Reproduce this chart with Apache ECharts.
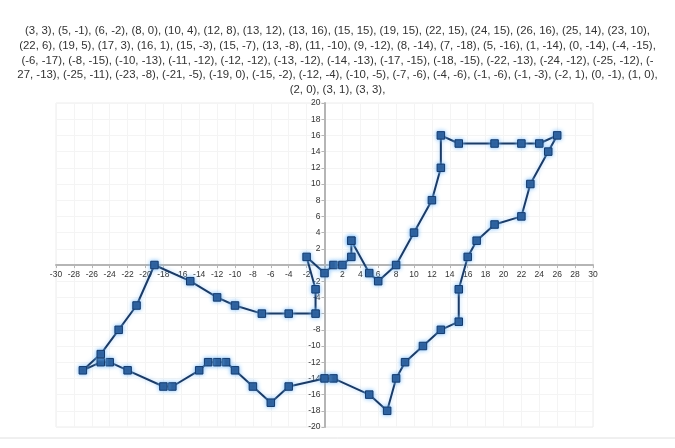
<!DOCTYPE html>
<html>
<head>
<meta charset="utf-8">
<script src="https://cdn.jsdelivr.net/npm/echarts@6/dist/echarts.min.js"></script>
<style>html,body{margin:0;padding:0;background:#fff;}#c{width:675px;height:448px;}</style>
</head>
<body>
<div id="c"></div>
<script>
var xs = [3,5,6,8,10,12,13,13,15,19,22,24,26,25,23,22,19,17,16,15,15,13,11,9,8,7,5,1,0,-4,-6,-8,-10,-11,-12,-13,-14,-17,-18,-22,-24,-25,-27,-25,-23,-21,-19,-15,-12,-10,-7,-4,-1,-1,-2,0,1,2,3,3];
var ys = [3,-1,-2,0,4,8,12,16,15,15,15,15,16,14,10,6,5,3,1,-3,-7,-8,-10,-12,-14,-18,-16,-14,-14,-15,-17,-15,-13,-12,-12,-12,-13,-15,-15,-13,-12,-12,-13,-11,-8,-5,0,-2,-4,-5,-6,-6,-6,-3,1,-1,0,0,1,3];
var titleLines = [
"(3, 3), (5, -1), (6, -2), (8, 0), (10, 4), (12, 8), (13, 12), (13, 16), (15, 15), (19, 15), (22, 15), (24, 15), (26, 16), (25, 14), (23, 10),",
"(22, 6), (19, 5), (17, 3), (16, 1), (15, -3), (15, -7), (13, -8), (11, -10), (9, -12), (8, -14), (7, -18), (5, -16), (1, -14), (0, -14), (-4, -15),",
"(-6, -17), (-8, -15), (-10, -13), (-11, -12), (-12, -12), (-13, -12), (-14, -13), (-17, -15), (-18, -15), (-22, -13), (-24, -12), (-25, -12), (-",
"27, -13), (-25, -11), (-23, -8), (-21, -5), (-19, 0), (-15, -2), (-12, -4), (-10, -5), (-7, -6), (-4, -6), (-1, -6), (-1, -3), (-2, 1), (0, -1), (1, 0),",
"(2, 0), (3, 1), (3, 3),"
];
var xMin = -30, xMax = 30, yMin = -20, yMax = 20, step = 2;

var W = 675, H = 448;
var gridLeft = 56, gridRight = 82, gridTop = 103, gridBottom = 21;
var gridW = W - gridLeft - gridRight;
var gridH = H - gridTop - gridBottom;
// place each axis where the other axis' value 0 falls inside the grid
var yAxisOffset = -gridW * (0 - xMin) / (xMax - xMin);
var xAxisOffset = -gridH * (0 - yMin) / (yMax - yMin);

var data = xs.map(function(x, i){ return [x, ys[i]]; });
var chart = echarts.init(document.getElementById('c'), null, {renderer:'canvas'});
chart.setOption({
  animation: false,
  backgroundColor: '#fff',
  title: {
    text: titleLines.join('\n'),
    left: 'center', top: 19,
    textStyle: {fontFamily: 'Liberation Sans', fontSize: 11.4, fontWeight: 'normal', color: '#333', lineHeight: 14.6}
  },
  grid: {left: gridLeft, right: gridRight, top: gridTop, bottom: gridBottom, show: true, borderColor: '#ececec', borderWidth: 1},
  xAxis: {
    type: 'value', min: xMin, max: xMax, interval: step,
    position: 'bottom', offset: xAxisOffset,
    axisLine: {onZero: false, lineStyle: {color: '#b5b5b5', width: 2}},
    axisTick: {show: true, length: 3, inside: false, lineStyle: {color: '#b5b5b5'}},
    axisLabel: {fontFamily: 'Liberation Sans', fontSize: 8.5, color: '#333', margin: 5},
    splitLine: {show: true, lineStyle: {color: '#f4f4f4'}}
  },
  yAxis: {
    type: 'value', min: yMin, max: yMax, interval: step,
    position: 'left', offset: yAxisOffset,
    axisLine: {onZero: false, lineStyle: {color: '#b5b5b5', width: 2}},
    axisTick: {show: true, length: 3, lineStyle: {color: '#b5b5b5'}},
    axisLabel: {fontFamily: 'Liberation Sans', fontSize: 8.5, color: '#333', margin: 4,
      formatter: function(v){ return v === 0 ? '' : String(v); }},
    splitLine: {show: true, lineStyle: {color: '#f4f4f4'}}
  },
  graphic: [{type: 'line', shape: {x1: 0, y1: 438, x2: W, y2: 438}, style: {stroke: '#e0e0e0', lineWidth: 1}}],
  series: [{
    type: 'line', data: data,
    symbol: 'rect', symbolSize: 7.5,
    lineStyle: {color: '#1c3a64', width: 2, shadowColor: 'rgba(140,200,255,0.7)', shadowBlur: 4},
    itemStyle: {color: '#1f4f8c', borderColor: '#163a6a', borderWidth: 1, shadowColor: 'rgba(120,190,255,0.9)', shadowBlur: 4}
  }]
});
</script>
</body>
</html>
